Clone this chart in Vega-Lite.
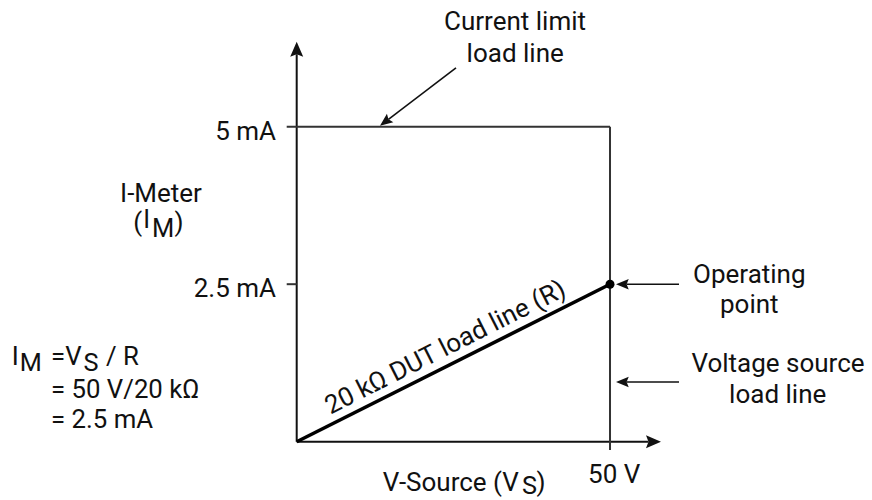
{
  "$schema": "https://vega.github.io/schema/vega-lite/v6.json",
  "width": 872,
  "height": 500,
  "padding": 0,
  "autosize": {"type": "none"},
  "background": "white",
  "config": {"view": {"stroke": null}, "text": {"font": "Roboto", "color": "#111"}},
  "datasets": {
    "lines": [
      {"v": 0, "i": 0, "v2": 0, "i2": 6.151, "kind": "axis"},
      {"v": 0, "i": 0, "v2": 56.14, "i2": 0, "kind": "axis"},
      {"v": -1.596, "i": 5, "v2": 50, "i2": 5, "kind": "box"},
      {"v": -1.596, "i": 2.5, "v2": 0, "i2": 2.5, "kind": "box"},
      {"v": 50, "i": 5, "v2": 50, "i2": -0.1317, "kind": "box"},
      {"v": 0, "i": 0, "v2": 50, "i2": 2.5, "kind": "dut"},
      {"v": 25.42, "i": 5.932, "v2": 14.64, "i2": 5.117, "kind": "ann"},
      {"v": 61.01, "i": 2.5, "v2": 52.65, "i2": 2.5, "kind": "ann"},
      {"v": 61.01, "i": 0.948, "v2": 52.65, "i2": 0.948, "kind": "ann"}
    ],
    "heads": [
      {"v": 0, "i": 6.151, "ang": 0, "kind": "big"},
      {"v": 56.14, "i": 0, "ang": 90, "kind": "big"},
      {"v": 14.64, "i": 5.117, "ang": 232.9, "kind": "small"},
      {"v": 52.65, "i": 2.5, "ang": 270, "kind": "small"},
      {"v": 52.65, "i": 0.948, "ang": 270, "kind": "small"}
    ],
    "op": [{"v": 50, "i": 2.5}],
    "labels": [
      {"v": 34.84, "i": 6.535, "t": "Current limit", "role": "label", "kind": "lbl"},
      {"v": 34.87, "i": 6.032, "t": "load line", "role": "label", "kind": "lbl"},
      {"v": -21.66, "i": 3.81, "t": "I-Meter", "role": "label", "kind": "lbl"},
      {"v": 72.23, "i": 2.514, "t": "Operating", "role": "label", "kind": "lbl"},
      {"v": 72.23, "i": 2.038, "t": "point", "role": "label", "kind": "lbl"},
      {"v": 76.81, "i": 1.111, "t": "Voltage source", "role": "label", "kind": "lbl"},
      {"v": 76.76, "i": 0.6095, "t": "load line", "role": "label", "kind": "lbl"},
      {"v": 50.67, "i": -0.66, "t": "50 V", "role": "label", "kind": "lbl"},
      {"v": -3.304, "i": 4.789, "t": "5 mA", "role": "tick", "kind": "lbl"},
      {"v": -3.304, "i": 2.302, "t": "2.5 mA", "role": "tick", "kind": "lbl"},
      {"v": -26.1, "i": 3.344, "t": "(", "role": "math", "kind": "lbl"},
      {"v": -24.5, "i": 3.387, "t": "I", "role": "math", "kind": "sup"},
      {"v": -23.1, "i": 3.254, "t": "M", "role": "math", "kind": "subm"},
      {"v": -19.5, "i": 3.344, "t": ")", "role": "math", "kind": "lbl"},
      {"v": -45.47, "i": 1.217, "t": "I", "role": "math", "kind": "frm"},
      {"v": -44.21, "i": 1.127, "t": "M", "role": "math", "kind": "sub"},
      {"v": -39.21, "i": 1.217, "t": "=V", "role": "math", "kind": "frm"},
      {"v": -34.02, "i": 1.127, "t": "S", "role": "math", "kind": "sub"},
      {"v": -30.43, "i": 1.217, "t": "/ R", "role": "math", "kind": "frm"},
      {"v": -39.21, "i": 0.689, "t": "= 50 V/20 kΩ", "role": "math", "kind": "frm"},
      {"v": -39.21, "i": 0.2127, "t": "= 2.5 mA", "role": "math", "kind": "frm"},
      {"v": 13.74, "i": -0.787, "t": "V-Source (V", "role": "math", "kind": "lbl"},
      {"v": 35.96, "i": -0.83, "t": "S", "role": "math", "kind": "sub"},
      {"v": 38.25, "i": -0.787, "t": ")", "role": "math", "kind": "lbl"},
      {"v": 24.31, "i": 1.379, "t": "20 kΩ DUT load line (R)", "role": "rot", "kind": "lbl"}
    ]
  },
  "encoding": {
    "x": {"field": "v", "type": "quantitative", "scale": {"domain": [-47.35, 91.81], "nice": false, "zero": false}, "axis": null},
    "y": {"field": "i", "type": "quantitative", "scale": {"domain": [-0.9254, 7.011], "nice": false, "zero": false}, "axis": null}
  },
  "layer": [
    {
      "data": {"name": "lines"},
      "transform": [{"filter": "datum.kind === 'axis'"}],
      "mark": {"type": "rule", "stroke": "#111", "strokeWidth": 2},
      "encoding": {"x2": {"field": "v2"}, "y2": {"field": "i2"}}
    },
    {
      "data": {"name": "lines"},
      "transform": [{"filter": "datum.kind === 'box'"}],
      "mark": {"type": "rule", "stroke": "#333", "strokeWidth": 2},
      "encoding": {"x2": {"field": "v2"}, "y2": {"field": "i2"}}
    },
    {
      "data": {"name": "lines"},
      "transform": [{"filter": "datum.kind === 'ann'"}],
      "mark": {"type": "rule", "stroke": "#111", "strokeWidth": 1.6},
      "encoding": {"x2": {"field": "v2"}, "y2": {"field": "i2"}}
    },
    {
      "data": {"name": "lines"},
      "transform": [{"filter": "datum.kind === 'dut'"}],
      "mark": {"type": "rule", "stroke": "#000", "strokeWidth": 3.5},
      "encoding": {"x2": {"field": "v2"}, "y2": {"field": "i2"}}
    },
    {
      "data": {"name": "heads"},
      "transform": [{"filter": "datum.kind === 'big'"}],
      "mark": {"type": "point", "shape": "M0,-1L0.52,0.2L0,0L-0.52,0.2Z", "filled": true, "color": "#111", "opacity": 1, "size": 625},
      "encoding": {"angle": {"field": "ang", "type": "quantitative", "scale": null}}
    },
    {
      "data": {"name": "heads"},
      "transform": [{"filter": "datum.kind === 'small'"}],
      "mark": {"type": "point", "shape": "M0,-1L0.5,0.2L0,0L-0.5,0.2Z", "filled": true, "color": "#111", "opacity": 1, "size": 450},
      "encoding": {"angle": {"field": "ang", "type": "quantitative", "scale": null}}
    },
    {
      "data": {"name": "op"},
      "mark": {"type": "point", "shape": "circle", "filled": true, "color": "#000", "opacity": 1, "size": 81}
    },
    {
      "data": {"name": "labels"},
      "transform": [{"filter": "datum.role === 'label'"}],
      "mark": {"type": "text", "align": "center", "baseline": "alphabetic", "fontSize": 26},
      "encoding": {"text": {"field": "t"}}
    },
    {
      "data": {"name": "labels"},
      "transform": [{"filter": "datum.role === 'tick'"}],
      "mark": {"type": "text", "align": "right", "baseline": "alphabetic", "fontSize": 26},
      "encoding": {"text": {"field": "t"}}
    },
    {
      "data": {"name": "labels"},
      "transform": [{"filter": "datum.role === 'math'"}],
      "mark": {"type": "text", "align": "left", "baseline": "alphabetic"},
      "encoding": {
        "text": {"field": "t"},
        "size": {"field": "kind", "type": "ordinal", "scale": {"domain": ["lbl", "frm", "subm", "sub", "sup"], "range": [26, 25, 24, 22, 19]}, "legend": null}
      }
    },
    {
      "data": {"name": "labels"},
      "transform": [{"filter": "datum.role === 'rot'"}],
      "mark": {"type": "text", "align": "center", "baseline": "alphabetic", "fontSize": 26, "angle": 333.2},
      "encoding": {"text": {"field": "t"}}
    }
  ]
}
